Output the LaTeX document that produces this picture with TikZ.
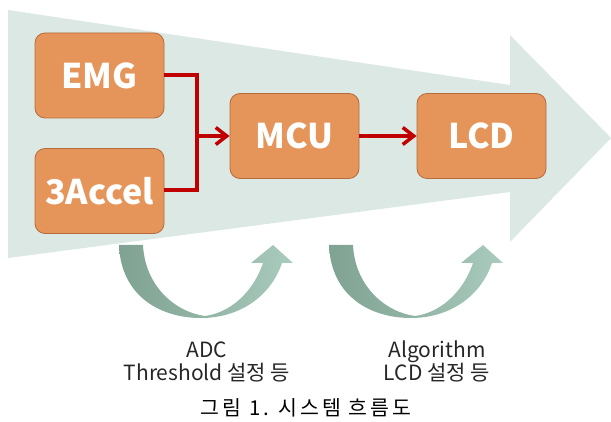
\documentclass[tikz,border=0pt]{standalone}
\usepackage{fontspec}
\setmainfont{Noto Sans CJK KR}
\newfontfamily\krfont{Noto Sans CJK KR}
\newfontfamily\capfont{Noto Sans CJK KR}[LetterSpace=14]
\usetikzlibrary{arrows.meta}
\definecolor{bigarrow}{HTML}{DCE8E4}
\definecolor{boxfill}{HTML}{E6955A}
\definecolor{boxline}{HTML}{B56B3A}
\definecolor{redline}{HTML}{C00000}
\definecolor{curvedark}{HTML}{7FA292}
\definecolor{curvelight}{HTML}{AACCBE}
\begin{document}
\begin{tikzpicture}[x=1pt,y=-1pt,
  blockbox/.style={draw=boxline, line width=0.8pt, fill=boxfill, rounded corners=10pt,
     minimum width=129pt, minimum height=85pt, inner sep=0pt,
     text=white, font=\krfont\bfseries\fontsize{34}{34}\selectfont},
  link/.style={draw=redline, line width=3.5pt},
  linkarrow/.style={link, -{Straight Barb[length=11pt,width=17pt,line width=3.5pt]}},
  lbl/.style={font=\krfont\fontsize{21}{24}\selectfont, text=black!85, anchor=base, inner sep=0pt},
]
\useasboundingbox (0,0) rectangle (611,422);
% big background arrow
\fill[bigarrow] (8,10) -- (510,85) -- (510,35) -- (611,138) -- (510,242) -- (510,192) -- (8,258) -- cycle;
% curved arrows
\foreach \dx in {0,210}{
\begin{scope}[xshift=\dx]
\shade[left color=curvedark, right color=curvelight, middle color=curvedark!55!curvelight]
  (119,245) .. controls (121,296) and (160,318) .. (201,318)
  .. controls (238,318) and (270,298) .. (282,263)
  -- (293,263) -- (273,245) -- (251,263) -- (263,263)
  .. controls (252,295) and (228,313) .. (205,316)
  .. controls (175,312) and (145,286) .. (143,245) -- cycle;
\end{scope}}
% blocks
\node[blockbox] (emg) at (99.5,75.5) {EMG};
\node[blockbox] (acc) at (99.5,191) {3Accel};
\node[blockbox] (mcu) at (294.5,136) {MCU};
\node[blockbox] (lcd) at (481.5,136) {LCD};
% connectors
\coordinate (j) at (197,136);
\draw[link] (emg.east |- 0,75) -| (j);
\draw[link] (acc.east |- 0,190) -| (j);
\draw[linkarrow] (j) -- (mcu.west);
\draw[linkarrow] (mcu.east) -- (lcd.west);
% labels
\node[lbl] (l1a) at (207,357) {ADC};
\node[lbl] (l1b) at (207,381) {Threshold 설정 등};
\node[lbl] (l2a) at (437,357) {Algorithm};
\node[lbl] (l2b) at (437,381) {LCD 설정 등};
\node[anchor=base, inner sep=0pt, font=\capfont\fontsize{20.5}{20.5}\selectfont] (cap) at (306,415) {그림 1. 시스템 흐름도};
\end{tikzpicture}
\end{document}
